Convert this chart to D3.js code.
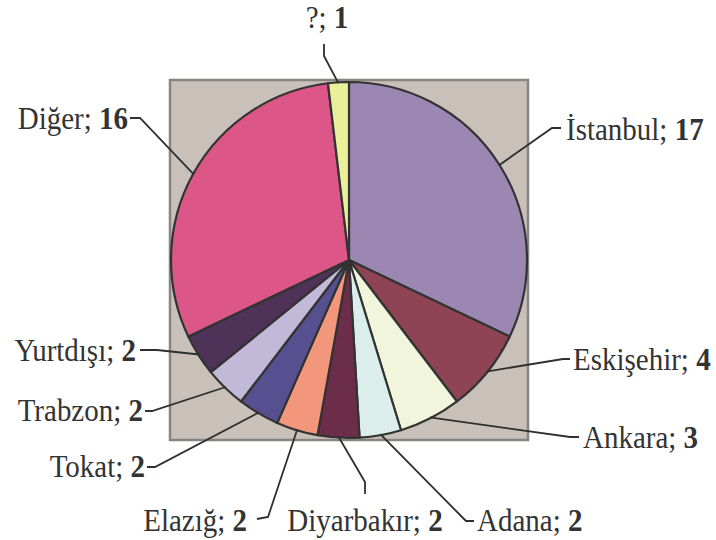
<!DOCTYPE html>
<html>
<head>
<meta charset="utf-8">
<script src="https://cdn.jsdelivr.net/npm/d3@7"></script>
<style>
  html, body { margin: 0; padding: 0; background: #ffffff; }
  svg { display: block; }
  text.lbl { font-family: "Liberation Serif", "Times New Roman", Times, "DejaVu Serif", serif; }
</style>
</head>
<body>
<svg id="chart" width="716" height="540"></svg>
<script>
// Slice data, clockwise from 12 o'clock
const categories = ["İstanbul", "Eskişehir", "Ankara", "Adana", "Diyarbakır", "Elazığ", "Tokat", "Trabzon", "Yurtdışı", "Diğer", "?"];
const values = [17, 4, 3, 2, 2, 2, 2, 2, 2, 16, 1];
const colors = ["#9C87B3", "#8E4455", "#F1F5DC", "#DCEEEB", "#6B2D4A", "#F2977C", "#565090", "#C2B8D8", "#4F3257", "#DC5688", "#EAF09A"];

// Label placement: elbow point, end of the short tail, text anchor and baseline
const labelLayout = [
  { elbow: [552, 128], tail: [561, 128], text: [566, 140], anchor: "start" },
  { elbow: [563, 359], tail: [570, 359], text: [573, 370], anchor: "start" },
  { elbow: [570, 437], tail: [579, 437], text: [583, 448], anchor: "start" },
  { elbow: [466, 521], tail: [474, 521], text: [477, 531], anchor: "start" },
  { elbow: [365, 482], tail: [365, 494], text: [365, 531], anchor: "middle" },
  { elbow: [268, 517], tail: [257, 519], text: [247, 531], anchor: "end" },
  { elbow: [155, 467], tail: [147, 467], text: [145, 477], anchor: "end" },
  { elbow: [152, 411], tail: [145, 411], text: [143, 421], anchor: "end" },
  { elbow: [157, 350], tail: [140, 350], text: [136, 361], anchor: "end" },
  { elbow: [140, 118], tail: [130, 118], text: [128, 129], anchor: "end" },
  { elbow: [324, 56],  tail: [324, 44],  text: [327, 28],  anchor: "middle" }
];

const svg = d3.select("#chart");
const cx = 349, cy = 260, radius = 178;

// Plot area backdrop
svg.append("rect")
  .attr("x", 170).attr("y", 80)
  .attr("width", 358).attr("height", 360)
  .attr("fill", "#C8C0B9")
  .attr("stroke", "#8A8480")
  .attr("stroke-width", 2.5);

const pie = d3.pie().sort(null).value(d => d)
  .startAngle(0).endAngle(2 * Math.PI);
const arcs = pie(values);

const arc = d3.arc().innerRadius(0).outerRadius(radius);
const edge = d3.arc().innerRadius(radius - 1).outerRadius(radius - 1);

const g = svg.append("g").attr("transform", `translate(${cx},${cy})`);

g.selectAll("path.slice")
  .data(arcs)
  .join("path")
  .attr("class", "slice")
  .attr("d", arc)
  .attr("fill", (d, i) => colors[i])
  .attr("stroke", "#333333")
  .attr("stroke-width", 2.2)
  .attr("stroke-linejoin", "round");

// Leader lines from the slice rim to each label
const line = d3.line();
svg.selectAll("path.leader")
  .data(arcs)
  .join("path")
  .attr("class", "leader")
  .attr("d", (d, i) => {
    const c = edge.centroid(d);
    const L = labelLayout[i];
    return line([[cx + c[0], cy + c[1]], L.elbow, L.tail]);
  })
  .attr("fill", "none")
  .attr("stroke", "#2f2f2f")
  .attr("stroke-width", 1.8);

// Labels: "name; value" with the value in bold, set slightly tall
const labels = svg.selectAll("text.lbl")
  .data(arcs)
  .join("text")
  .attr("class", "lbl")
  .attr("transform", (d, i) => `translate(${labelLayout[i].text[0]},${labelLayout[i].text[1]}) scale(1,1.12)`)
  .attr("text-anchor", (d, i) => labelLayout[i].anchor)
  .style("font-size", "29px")
  .attr("fill", "#333333");

labels.append("tspan").text((d, i) => categories[i] + "; ");
labels.append("tspan").attr("font-weight", "bold").text(d => d.data);
</script>
</body>
</html>
